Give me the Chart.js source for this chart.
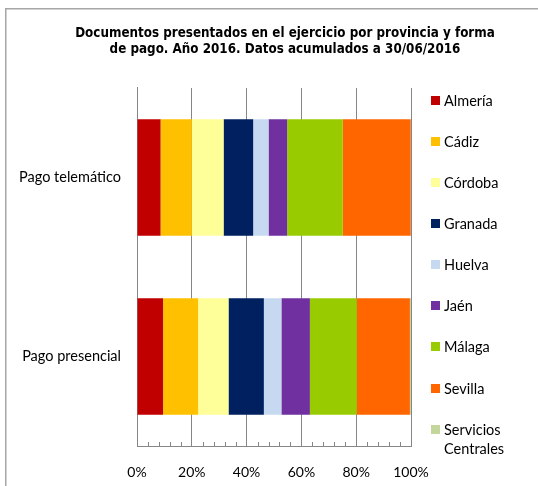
<!DOCTYPE html>
<html>
<head>
<meta charset="utf-8">
<script src="https://cdn.jsdelivr.net/npm/chart.js@4.4.1/dist/chart.umd.min.js"></script>
<style>
  html, body { margin: 0; padding: 0; background: #fff; overflow: hidden; }
  #wrap { position: relative; width: 538px; height: 486px; overflow: hidden; }
  #c { position: absolute; left: 0; top: 0; }
  #legend { position: absolute; left: 0; top: 0; width: 538px; height: 486px; pointer-events: none;
            font-family: Lato, "Open Sans", sans-serif; font-size: 14.5px; color: #000; }
  .li { position: absolute; left: 431px; line-height: 19px; }
  .li .box { position: absolute; left: 0; top: 5px; width: 9px; height: 9px; }
  .li .txt { position: absolute; left: 13px; top: 0; white-space: nowrap; }
</style>
</head>
<body>
<div id="wrap">
  <canvas id="c" width="570" height="486"></canvas>
  <div id="legend"></div>
</div>
<script>
const categories = ["Pago telemático", "Pago presencial"];
const provinces = ["Almería", "Cádiz", "Córdoba", "Granada", "Huelva", "Jaén", "Málaga", "Sevilla", "Servicios Centrales"];
const colors = ["#C00000", "#FFC000", "#FFFF99", "#002060", "#C6D9F1", "#7030A0", "#99CC00", "#FF6600", "#C3D69B"];
const almeria = [8.6, 9.5];
const cadiz = [11.4, 12.8];
const cordoba = [11.6, 11.1];
const granada = [10.8, 12.9];
const huelva = [5.6, 6.4];
const jaen = [6.8, 10.4];
const malaga = [20.3, 17.1];
const sevilla = [24.8, 19.4];
const serviciosCentrales = [0.1, 0.4];
const seriesValues = [almeria, cadiz, cordoba, granada, huelva, jaen, malaga, sevilla, serviciosCentrales];
const xTickValues = [0, 20, 40, 60, 80, 100];
const titleLines = ["Documentos presentados en el ejercicio por provincia y forma", "de pago. Año 2016. Datos acumulados a 30/06/2016"];

const frame = {
  id: 'frame',
  beforeDraw(chart) {
    const ctx = chart.ctx;
    ctx.save();
    ctx.fillStyle = '#a6a6a6';
    ctx.fillRect(5, 8, 565, 1.5);
    ctx.fillRect(5, 8, 1.5, 478);
    ctx.restore();
  }
};
const minorTicks = {
  id: 'minorTicks',
  afterDraw(chart) {
    const x = chart.scales.x;
    const ctx = chart.ctx;
    const yb = chart.chartArea.bottom;
    ctx.save();
    ctx.strokeStyle = '#868686';
    ctx.lineWidth = 1;
    ctx.beginPath();
    for (let v = 4; v < 100; v += 4) {
      if (v % 20 === 0) continue;
      const px = Math.round(x.getPixelForValue(v)) + 0.5;
      ctx.moveTo(px, yb);
      ctx.lineTo(px, yb - 4);
    }
    ctx.stroke();
    ctx.restore();
  }
};

const chart = new Chart(document.getElementById('c'), {
  type: 'bar',
  data: {
    labels: categories,
    datasets: provinces.map((p, i) => ({
      label: p,
      data: seriesValues[i],
      backgroundColor: colors[i],
      borderWidth: 0,
      categoryPercentage: 1,
      barPercentage: 0.65
    }))
  },
  options: {
    indexAxis: 'y',
    responsive: false,
    animation: false,
    layout: { padding: { left: 0, right: 0, top: 0, bottom: 0 } },
    plugins: {
      legend: { display: false },
      tooltip: { enabled: false },
      title: {
        display: true,
        text: titleLines,
        color: '#000',
        font: { family: '"Liberation Sans Narrow", "DejaVu Sans Condensed", "Liberation Sans", sans-serif', size: 13.3, weight: 'bold', lineHeight: 1.24 },
        padding: { top: 25, bottom: 30 }
      }
    },
    scales: {
      x: {
        stacked: true,
        min: 0, max: 100,
        afterBuildTicks(s) { s.ticks = xTickValues.map(v => ({ value: v })); },
        ticks: {
          callback: v => v + '%',
          color: '#000',
          padding: 18,
          maxRotation: 0,
          font: { family: 'Lato, "Open Sans", sans-serif', size: 14 }
        },
        grid: { color: '#868686', lineWidth: 1, drawTicks: false },
        border: { color: '#868686', width: 1 },
        afterFit(s) { s.height = 40; }
      },
      y: {
        stacked: true,
        ticks: {
          color: '#000',
          padding: 16,
          font: { family: 'Lato, "Open Sans", sans-serif', size: 14.5 }
        },
        grid: { display: false, drawTicks: false },
        border: { color: '#868686', width: 1 },
        afterFit(s) { s.width = 137; }
      },
      spacer: {
        type: 'linear',
        position: 'right',
        display: true,
        ticks: { display: false },
        grid: { display: false, drawTicks: false },
        border: { display: false },
        afterFit(s) { s.width = 159; }
      }
    }
  },
  plugins: [frame, minorTicks]
});

// HTML legend built from chart data
const legendEl = document.getElementById('legend');
const firstCenter = 100.3, step = 41.1;
chart.data.datasets.forEach((ds, i) => {
  const item = document.createElement('div');
  item.className = 'li';
  item.style.top = (firstCenter + i * step - 9.5) + 'px';
  const box = document.createElement('div');
  box.className = 'box';
  box.style.background = ds.backgroundColor;
  const txt = document.createElement('div');
  txt.className = 'txt';
  if (ds.label === 'Servicios Centrales') {
    txt.innerHTML = 'Servicios<br>Centrales';
  } else {
    txt.textContent = ds.label;
  }
  item.appendChild(box);
  item.appendChild(txt);
  legendEl.appendChild(item);
});
</script>
</body>
</html>
